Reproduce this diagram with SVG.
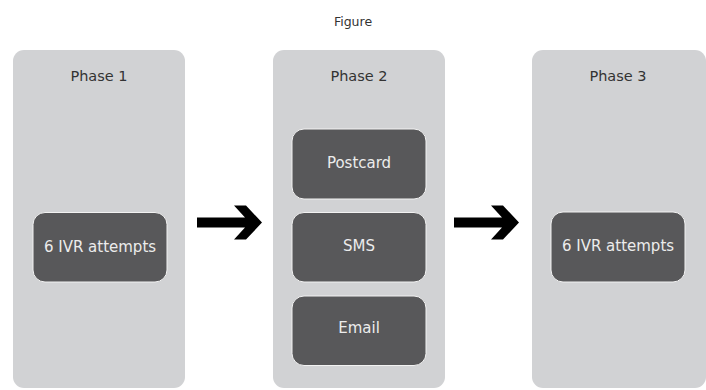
<svg xmlns="http://www.w3.org/2000/svg" xmlns:xlink="http://www.w3.org/1999/xlink" width="706" height="390" viewBox="0 0 706 390">
<style>
.phase{fill:#d1d2d4}
.ptxt{font-family:"DejaVu Sans",Verdana,sans-serif;font-size:14.5px;fill:#333;text-anchor:middle}
.item{fill:#58585a;stroke:#f2f2f2;stroke-width:1}
.itxt{font-family:"DejaVu Sans",Verdana,sans-serif;font-size:15px;fill:#ececec;text-anchor:middle;dominant-baseline:central}
.title{font-family:"DejaVu Sans",Verdana,sans-serif;font-size:12.5px;fill:#333;text-anchor:middle}
</style>
<defs>
<path id="arrow" d="M -65 -5 L -17 -5 L -28 -17 L -16 -17 L 0 0 L -16 17 L -28 17 L -17 5 L -65 5 Z" fill="#000"/>
</defs>
<rect width="706" height="390" fill="#fff"/>
<text class="title" x="353" y="26">Figure</text>
<g id="phase1">
<rect class="phase" x="13" y="50" width="172" height="338" rx="11"/>
<text class="ptxt" x="99" y="81">Phase 1</text>
</g>
<g id="phase2">
<rect class="phase" x="273" y="50" width="172" height="338" rx="11"/>
<text class="ptxt" x="359" y="81">Phase 2</text>
</g>
<g id="phase3">
<rect class="phase" x="532" y="50" width="174" height="338" rx="11"/>
<text class="ptxt" x="618" y="81">Phase 3</text>
</g>
<g id="ivr1">
<rect class="item" x="33" y="212.5" width="134" height="69.5" rx="12"/>
<text class="itxt" x="100" y="247">6 IVR attempts</text>
</g>
<g id="postcard">
<rect class="item" x="292" y="129" width="134" height="70" rx="12"/>
<text class="itxt" x="359" y="163">Postcard</text>
</g>
<g id="sms">
<rect class="item" x="292" y="212.5" width="134" height="69.5" rx="12"/>
<text class="itxt" x="359" y="246">SMS</text>
</g>
<g id="email">
<rect class="item" x="292" y="296" width="134" height="69.5" rx="12"/>
<text class="itxt" x="359" y="328">Email</text>
</g>
<g id="ivr3">
<rect class="item" x="551" y="212" width="134" height="70" rx="12"/>
<text class="itxt" x="618" y="246">6 IVR attempts</text>
</g>
<g id="connectors">
<use xlink:href="#arrow" transform="translate(262,222.5)"/>
<use xlink:href="#arrow" transform="translate(519,222.5)"/>
</g>
</svg>
